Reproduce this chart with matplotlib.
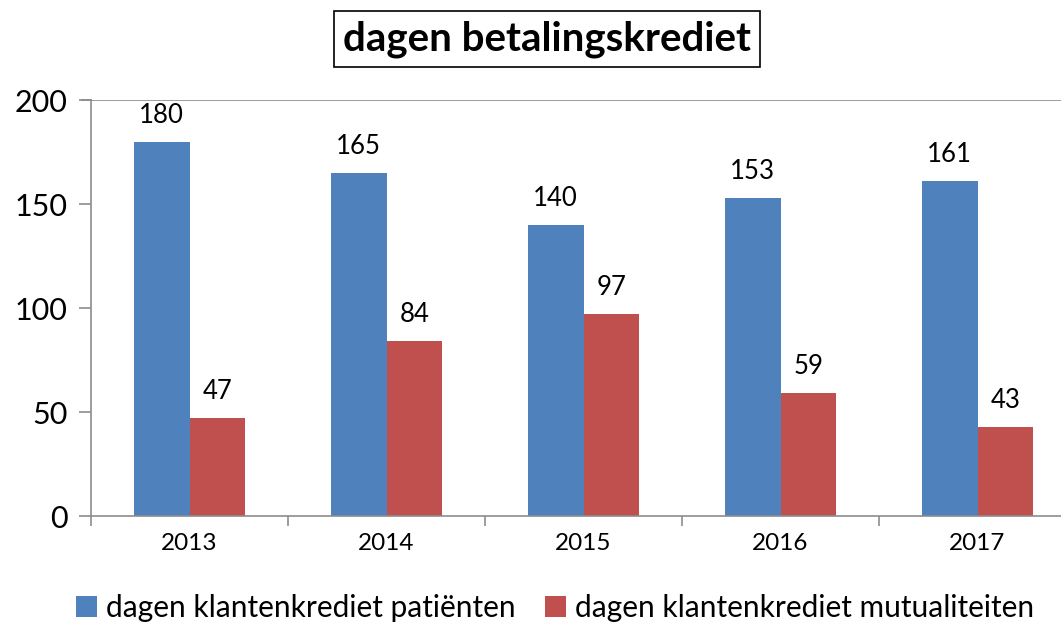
"""Bar chart: dagen betalingskrediet."""
import numpy as np
import matplotlib
matplotlib.use("Agg")
import matplotlib.pyplot as plt

YEARS = ["2013", "2014", "2015", "2016", "2017"]
PATIENTEN = [180, 165, 140, 153, 161]
MUTUALITEITEN = [47, 84, 97, 59, 43]
LABELS = ["dagen klantenkrediet patiënten", "dagen klantenkrediet mutualiteiten"]

BLUE = "#4F81BD"
RED = "#C0504D"
GREY = "#8C8C8C"

plt.rcParams["font.family"] = ["Lato", "DejaVu Sans"]

fig = plt.figure(figsize=(10.61, 6.24), dpi=100)
ax = fig.add_axes([91 / 1061, 1 - 516 / 624, (1076 - 91) / 1061, 416 / 624])

x = np.arange(len(YEARS))
w = 0.284
b1 = ax.bar(x - w / 2, PATIENTEN, w, color=BLUE, label=LABELS[0])
b2 = ax.bar(x + w / 2, MUTUALITEITEN, w, color=RED, label=LABELS[1])
for bars in (b1, b2):
    ax.bar_label(bars, padding=10, fontsize=18.5)

ax.set_xlim(-0.5, len(YEARS) - 0.5)
ax.set_ylim(0, 200)
ax.set_yticks([0, 50, 100, 150, 200])
ax.tick_params(axis="y", labelsize=22, length=9, color=GREY, width=1.2, pad=8)
ax.set_xticks(x)
ax.set_xticks(np.arange(len(YEARS) + 1) - 0.5, minor=True)
ax.tick_params(axis="x", which="major", length=0, labelsize=17.5, pad=12)
ax.tick_params(axis="x", which="minor", length=7, color=GREY, width=1.2)
ax.set_xticklabels(YEARS)

for side in ("top", "right"):
    ax.spines[side].set_visible(False)
for side in ("left", "bottom"):
    ax.spines[side].set_color(GREY)
    ax.spines[side].set_linewidth(1.2)
ax.axhline(200, color=GREY, lw=1.2)
ax.plot([-0.5 - 9 / 197, -0.5], [200, 200], color=GREY, lw=1.2, clip_on=False)

fig.text(547 / 1061, 1 - 39 / 624, "dagen betalingskrediet", ha="center",
         va="center", fontsize=29, fontweight="bold",
         bbox=dict(boxstyle="square,pad=0.22", fc="white", ec="black", lw=1.2))

fig.legend(handles=[b1, b2], loc="center", bbox_to_anchor=(555 / 1061, 1 - 608 / 624),
           ncol=2, frameon=False, fontsize=21.5, handlelength=0.7, handleheight=0.7,
           handletextpad=0.3, columnspacing=1.0)

fig.savefig("out.png", dpi=100)
